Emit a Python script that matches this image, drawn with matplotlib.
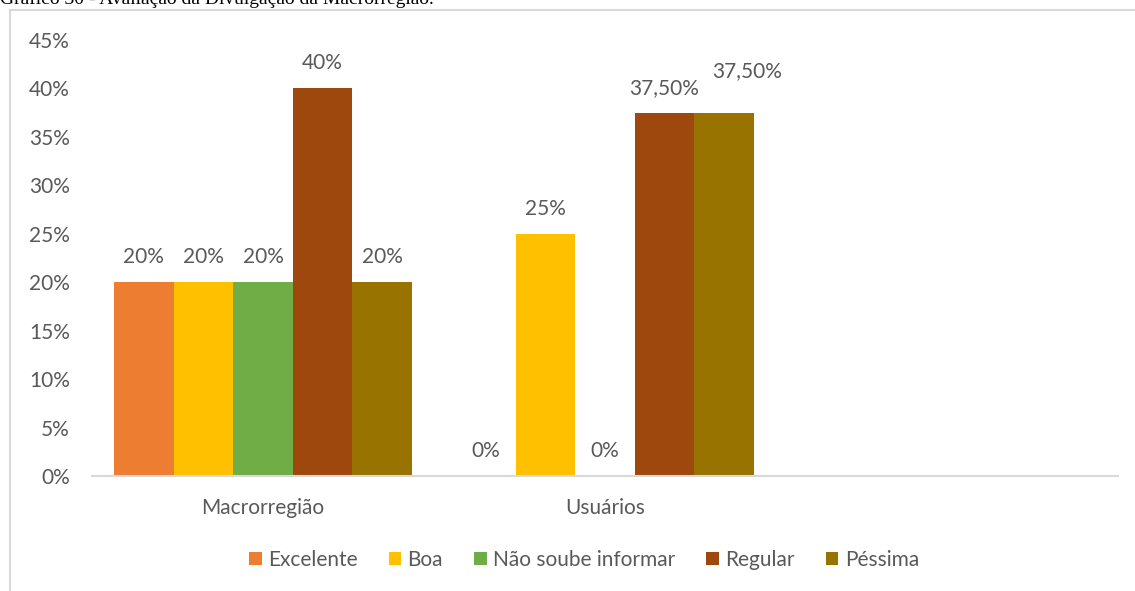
import matplotlib.pyplot as plt
from matplotlib.patches import Rectangle
import numpy as np

plt.rcParams['font.family'] = ['Lato', 'DejaVu Sans']

# Dados
categorias = ["Macrorregião", "Usuários", ""]
series = ["Excelente", "Boa", "Não soube informar", "Regular", "Péssima"]
valores = {
    "Excelente": [20, 0, None],
    "Boa": [20, 25, None],
    "Não soube informar": [20, 0, None],
    "Regular": [40, 37.5, None],
    "Péssima": [20, 37.5, None],
}
rotulos = {
    "Excelente": ["20%", "0%", ""],
    "Boa": ["20%", "25%", ""],
    "Não soube informar": ["20%", "0%", ""],
    "Regular": ["40%", "37,50%", ""],
    "Péssima": ["20%", "37,50%", ""],
}
cores = ["#ED7D31", "#FFC000", "#70AD47", "#9E480E", "#997300"]
yticks = [0, 5, 10, 15, 20, 25, 30, 35, 40, 45]

cinza = "#595959"
fs = 15

fig = plt.figure(figsize=(11.35, 5.91), dpi=100)
ax = fig.add_axes([0.081, 0.1946, 0.904, 0.7377])

x = np.arange(len(categorias))
largura = 0.174
for i, (s, c) in enumerate(zip(series, cores)):
    vals = [v if v is not None else 0 for v in valores[s]]
    pos = x + (i - 2) * largura
    ax.bar(pos, vals, width=largura, color=c, label=s)
    for j, (p, v) in enumerate(zip(pos, valores[s])):
        if v is None:
            continue
        dx, dy = 0, 18
        # rótulos sobrepostos deslocados como no original
        if s == "Péssima" and j == 1:
            dx, dy = 17, 30
        ax.annotate(rotulos[s][j], (p, v), xytext=(dx, dy), textcoords="offset points",
                    ha="center", va="center", fontsize=fs, color=cinza)

ax.set_xlim(-0.5, 2.5)
ax.set_ylim(0, 45)
ax.set_yticks(yticks)
ax.set_yticklabels([f"{t}%" for t in yticks], fontsize=fs, color=cinza)
ax.set_xticks(x)
ax.set_xticklabels(categorias, fontsize=fs, color=cinza)
ax.tick_params(length=0)
ax.tick_params(axis="x", pad=16)
ax.tick_params(axis="y", pad=16)
for lado in ["top", "right", "left"]:
    ax.spines[lado].set_visible(False)
ax.spines["bottom"].set_color("#D9D9D9")
ax.spines["bottom"].set_linewidth(1.5)

fig.legend(loc="center", bbox_to_anchor=(584 / 1135, 1 - 560 / 591), ncol=5,
           frameon=False, fontsize=fs, labelcolor=cinza, handlelength=0.6,
           handleheight=0.6, handletextpad=0.3, columnspacing=1.5)

# moldura do gráfico
fig.patches.append(Rectangle((10 / 1135, -0.1), 1.2, 1.1 - 10 / 591,
                             transform=fig.transFigure, fill=False,
                             edgecolor="#D9D9D9", linewidth=1.5))

fig.text(0.0, 1 - 4 / 591, "Gráfico 30 - Avaliação da Divulgação da Macrorregião.",
         family="Liberation Serif", fontsize=14, va="baseline", ha="left")

fig.savefig("out.png", dpi=100)
